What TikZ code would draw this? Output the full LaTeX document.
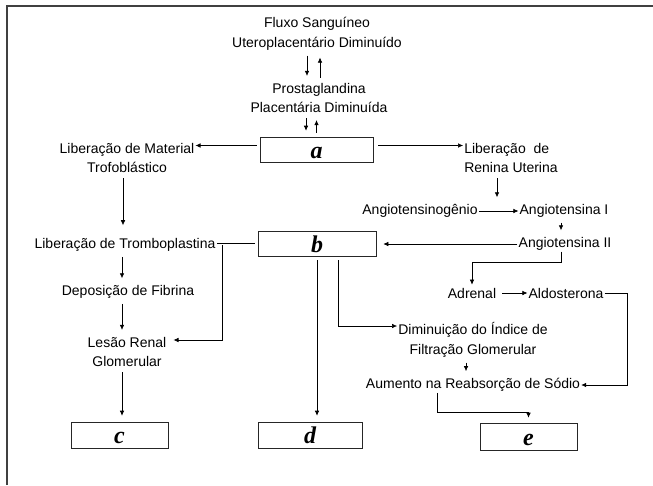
\documentclass[tikz,border=0pt]{standalone}
\usepackage{fontspec}
\setmainfont{Liberation Sans}
\newfontfamily\letterfont{Liberation Serif}
\usetikzlibrary{arrows.meta}

\begin{document}
\begin{tikzpicture}[
  x=1pt, y=-1pt,
  every node/.style={font=\fontsize{14}{19.5}\selectfont, inner sep=1pt},
  step label/.style={align=center},
  letter box/.style={draw=black!85, line width=.6pt, minimum height=25pt,
    inner sep=0pt, text height=17pt, text depth=0pt,
    font=\letterfont\bfseries\itshape\fontsize{24}{24}\selectfont},
  link/.style={line width=.6pt},
  flow/.style={link, -{Latex[length=5pt,width=4.5pt]}},
  gap/.style={shorten <=4pt, shorten >=6pt}
]
\useasboundingbox (0,0) rectangle (653,485);
\draw[line width=1.3pt, black!75] (7,485) -- (7,6) -- (653,6);

% top chain
\node[step label] (flux) at (317,34) {Fluxo Sanguíneo\\Uteroplacentário Diminuído};
\node[step label] (prost) at (319,98) {Prostaglandina\\Placentária Diminuída};
\node[letter box, minimum width=113pt] (a) at (316.5,149.5) {a};

% left column
\node[step label] (mat) at (127,158) {Liberação de Material\\Trofoblástico};
\node (trombo) at (125,245) {Liberação de Tromboplastina};
\node (fib) at (128,292) {Deposição de Fibrina};
\node[step label] (lesao) at (127,352) {Lesão Renal\\Glomerular};
\node[letter box, minimum width=97pt, minimum height=26pt] (c) at (119.5,435) {c};

% middle
\node[letter box, minimum width=118pt] (b) at (317,243.5) {b};
\node[letter box, minimum width=104pt, minimum height=26pt] (d) at (310,435) {d};

% right column
\node[align=left] (ren) at (511,158) {Liberação~~de\\Renina Uterina};
\node (ang0) at (420,211) {Angiotensinogênio};
\node (ang1) at (564,211) {Angiotensina I};
\node (ang2) at (565,244) {Angiotensina II};
\node (adr) at (472,293) {Adrenal};
\node (ald) at (566,293) {Aldosterona};
\node[step label] (dim) at (473,340) {Diminuição do Índice de\\Filtração Glomerular};
\node (aum) at (473,385) {Aumento na Reabsorção de Sódio};
\node[letter box, minimum width=97pt, minimum height=27pt] (e) at (528.5,436.5) {e};

\draw[flow, gap] ([xshift=-10pt]flux.south) -- ([xshift=-10pt]flux.south |- prost.north);
\draw[flow, gap] ([xshift=1pt]prost.north) -- ([xshift=1pt]prost.north |- flux.south);
\draw[flow, gap] ([xshift=-13pt]prost.south) -- ([xshift=-13pt]prost.south |- a.north);
\draw[flow, gap] (a.north) -- (a.north |- prost.south);

\draw[flow] ([xshift=-3pt,yshift=4pt]a.west) -- ([yshift=4pt]a.west -| mat.east);
\draw[flow] ([xshift=5pt,yshift=4pt]a.east) -- ([yshift=4pt]a.east -| ren.west);

\draw[flow, gap, shorten >=12pt] ([xshift=-4pt]mat.south) -- ([xshift=-4pt]mat.south |- trombo.north);
\draw[flow, gap] ([xshift=-3pt]trombo.south) -- ([xshift=-3pt]trombo.south |- fib.north);
\draw[flow, gap] ([xshift=-6pt]fib.south) -- ([xshift=-6pt]fib.south |- lesao.north);
\draw[flow, gap] ([xshift=-5pt]lesao.south) -- ([xshift=-5pt]lesao.south |- c.north);
\draw[link] ([xshift=-3pt]b.west) -- (b.west -| trombo.east);
\draw[flow] ([xshift=6pt]trombo.east) |- ([xshift=6pt,yshift=12pt]lesao.east);

\draw[flow, gap] (b.south) -- (b.south |- d.north);
\draw[flow] ([xshift=21pt,yshift=-4pt]b.south) |- ([yshift=14pt]dim.west);

\draw[flow, gap] ([xshift=-14pt]ren.south) -- ([xshift=-14pt]ren.south |- ang0.north);
\draw[flow] (ang0.east) -- (ang1.west);
\draw[flow, gap] ([xshift=-3pt]ang1.south) -- ([xshift=-3pt]ang1.south |- ang2.north);
\draw[flow] (ang2.west) -- ([xshift=7pt]ang2.west -| b.east);
\draw[flow] ([xshift=-4pt]ang2.south) -- ++(0,11) -| ([yshift=2pt]adr.north);
\draw[flow] ([xshift=5pt]adr.east) -- (ald.west);
\draw[flow] (ald.east) -- ++(23,0) |- (aum.east);
\draw[flow, gap] ([xshift=-7pt]dim.south) -- ([xshift=-7pt]dim.south |- aum.north);
\draw[flow] ([xshift=-36pt]aum.south) -- ++(0,19) -| ([yshift=5pt]e.north);
\end{tikzpicture}
\end{document}
